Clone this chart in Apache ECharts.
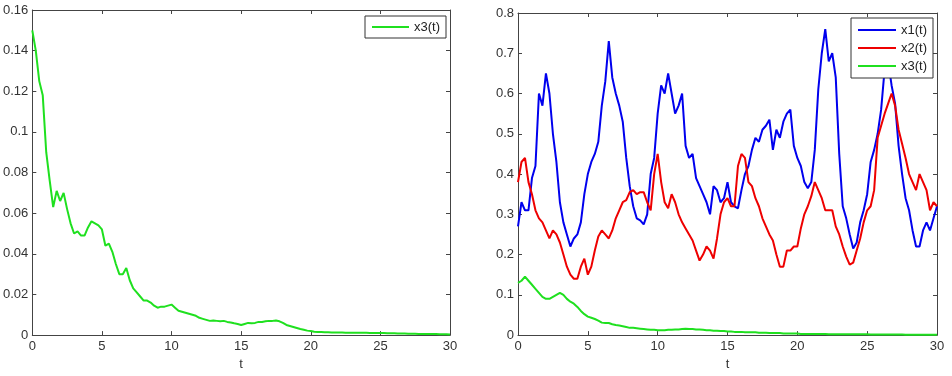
<!DOCTYPE html>
<html>
<head>
<meta charset="utf-8">
<title>x1 x2 x3</title>
<script src="https://cdn.jsdelivr.net/npm/echarts@6/dist/echarts.min.js"></script>
<style>
  html, body { margin: 0; padding: 0; background: #fff; }
  #main { width: 952px; height: 376px; }
</style>
</head>
<body>
<div id="main"></div>
<script type="text/javascript">
// sample times 0..30, step 0.25
var step = 0.25;
var tList = [];
for (var i = 0; i <= 120; i++) tList.push(i * step);

// left panel: x3(t)
var x3Left = [
  0.15, 0.14, 0.125, 0.118,
  0.09, 0.076, 0.063, 0.071,
  0.066, 0.070, 0.062, 0.055,
  0.050, 0.051, 0.049, 0.049,
  0.053, 0.056, 0.055, 0.054,
  0.052, 0.044, 0.045, 0.041,
  0.035, 0.030, 0.030, 0.033,
  0.027, 0.023, 0.021, 0.019,
  0.017, 0.017, 0.016, 0.0145,
  0.0135, 0.014, 0.014, 0.0145,
  0.015, 0.0135, 0.012, 0.0115,
  0.011, 0.0105, 0.010, 0.0095,
  0.0085, 0.008, 0.0075, 0.007,
  0.0072, 0.007, 0.0068, 0.007,
  0.0065, 0.0062, 0.0058, 0.0055,
  0.005, 0.0055, 0.006, 0.0058,
  0.006, 0.0065, 0.0065, 0.0068,
  0.007, 0.007, 0.0072, 0.0068,
  0.006, 0.005, 0.0045, 0.004,
  0.0035, 0.003, 0.0026, 0.0022,
  0.002, 0.0017, 0.0015, 0.0015,
  0.0014, 0.0014, 0.0013, 0.0013,
  0.0013, 0.0013, 0.0012, 0.0012,
  0.0012, 0.0012, 0.0011, 0.0011,
  0.0011, 0.001, 0.001, 0.001,
  0.001, 0.001, 0.0009, 0.0009,
  0.0009, 0.0008, 0.0008, 0.0008,
  0.0007, 0.0007, 0.0007, 0.0006,
  0.0006, 0.0006, 0.0005, 0.0005,
  0.0005, 0.0004, 0.0004, 0.0004,
  0.0003
];

// right panel
var x1 = [
  0.27, 0.33, 0.31, 0.31,
  0.39, 0.42, 0.60, 0.57,
  0.65, 0.60, 0.50, 0.43,
  0.33, 0.28, 0.25, 0.22,
  0.24, 0.25, 0.28, 0.35,
  0.40, 0.43, 0.45, 0.48,
  0.57, 0.63, 0.73, 0.64,
  0.60, 0.57, 0.53, 0.44,
  0.37, 0.32, 0.29, 0.285,
  0.275, 0.30, 0.40, 0.44,
  0.55, 0.62, 0.60, 0.65,
  0.60, 0.55, 0.57, 0.60,
  0.47, 0.44, 0.45, 0.39,
  0.37, 0.35, 0.33, 0.30,
  0.37, 0.36, 0.33, 0.34,
  0.38, 0.33, 0.32, 0.315,
  0.36, 0.40, 0.42, 0.46,
  0.49, 0.48, 0.51, 0.52,
  0.535, 0.46, 0.51, 0.49,
  0.53, 0.55, 0.56, 0.47,
  0.44, 0.42, 0.38, 0.365,
  0.38, 0.46, 0.61, 0.70,
  0.76, 0.68, 0.70, 0.64,
  0.45, 0.32, 0.29, 0.25,
  0.215, 0.23, 0.28, 0.31,
  0.35, 0.43, 0.46, 0.50,
  0.56, 0.66, 0.68, 0.62,
  0.575, 0.47, 0.40, 0.34,
  0.31, 0.26, 0.22, 0.22,
  0.26, 0.28, 0.26, 0.29,
  0.32
];

var x2 = [
  0.38, 0.43, 0.44, 0.38,
  0.35, 0.31, 0.29, 0.28,
  0.26, 0.24, 0.26, 0.25,
  0.23, 0.20, 0.17, 0.15,
  0.14, 0.14, 0.17, 0.19,
  0.15, 0.17, 0.21, 0.245,
  0.26, 0.25, 0.24, 0.26,
  0.29, 0.31, 0.33, 0.335,
  0.355, 0.36, 0.35, 0.355,
  0.355, 0.33, 0.31, 0.40,
  0.45, 0.38, 0.33, 0.315,
  0.35, 0.33, 0.30, 0.28,
  0.265, 0.25, 0.235, 0.21,
  0.185, 0.20, 0.22, 0.21,
  0.19, 0.24, 0.30, 0.33,
  0.34, 0.32, 0.32, 0.42,
  0.45, 0.44, 0.38, 0.37,
  0.34, 0.32, 0.29, 0.27,
  0.25, 0.235, 0.20, 0.17,
  0.17, 0.21, 0.21, 0.22,
  0.22, 0.265, 0.30, 0.32,
  0.345, 0.38, 0.36, 0.34,
  0.31, 0.31, 0.31, 0.27,
  0.25, 0.22, 0.195, 0.175,
  0.18, 0.21, 0.24, 0.28,
  0.31, 0.32, 0.36, 0.49,
  0.52, 0.55, 0.575, 0.60,
  0.57, 0.51, 0.475, 0.44,
  0.40, 0.38, 0.36, 0.40,
  0.38, 0.36, 0.31, 0.33,
  0.32
];

var x3Right = [
  0.13, 0.135, 0.145, 0.135,
  0.125, 0.115, 0.105, 0.095,
  0.09, 0.09, 0.095, 0.10,
  0.105, 0.10, 0.09, 0.083,
  0.078, 0.07, 0.06, 0.052,
  0.046, 0.043, 0.04, 0.036,
  0.031, 0.03, 0.03, 0.027,
  0.025, 0.024, 0.022, 0.02,
  0.018, 0.018, 0.017, 0.016,
  0.015, 0.014, 0.013, 0.013,
  0.012, 0.012, 0.012, 0.013,
  0.013, 0.014, 0.014, 0.015,
  0.016, 0.015, 0.015, 0.014,
  0.014, 0.013, 0.012, 0.012,
  0.011, 0.011, 0.010, 0.010,
  0.009, 0.009, 0.008, 0.008,
  0.008, 0.007, 0.007, 0.007,
  0.007, 0.006, 0.006, 0.006,
  0.005, 0.005, 0.005, 0.005,
  0.004, 0.004, 0.004, 0.004,
  0.004, 0.003, 0.003, 0.003,
  0.003, 0.003, 0.003, 0.003,
  0.003, 0.002, 0.002, 0.002,
  0.002, 0.002, 0.002, 0.002,
  0.002, 0.002, 0.002, 0.002,
  0.002, 0.0015, 0.0015, 0.0015,
  0.0015, 0.0015, 0.0015, 0.0012,
  0.0012, 0.0012, 0.0012, 0.001,
  0.001, 0.001, 0.001, 0.001,
  0.001, 0.001, 0.001, 0.001,
  0.001
];

var xTicks = [0, 5, 10, 15, 20, 25, 30];

function pairs(vals) {
  var out = [];
  for (var i = 0; i < vals.length; i++) out.push([tList[i], vals[i]]);
  return out;
}

var axisColor = '#444';
var labelFont = { color: '#333', fontSize: 13, fontFamily: 'Liberation Sans, Arial, sans-serif' };

function xAx(grid, pos, labels) {
  return {
    type: 'value', gridIndex: grid, position: pos,
    min: xTicks[0], max: xTicks[xTicks.length - 1], interval: 5,
    name: labels ? 't' : '', nameLocation: 'middle', nameGap: 18,
    nameTextStyle: labelFont,
    axisLine: { show: true, onZero: false, lineStyle: { color: axisColor, width: 1 } },
    axisTick: { show: true, inside: true, length: 4, lineStyle: { color: axisColor } },
    axisLabel: Object.assign({ show: labels, margin: 5 }, labelFont),
    splitLine: { show: false }
  };
}

function yAx(grid, pos, max, interval, labels) {
  return {
    type: 'value', gridIndex: grid, position: pos,
    min: 0, max: max, interval: interval,
    axisLine: { show: true, onZero: false, lineStyle: { color: axisColor, width: 1 } },
    axisTick: { show: true, inside: true, length: 4, lineStyle: { color: axisColor } },
    axisLabel: Object.assign({ show: labels, margin: 4 }, labelFont),
    splitLine: { show: false }
  };
}

var legendText = { color: '#222', fontSize: 13, fontFamily: 'Liberation Sans, Arial, sans-serif', lineHeight: 14 };

var myChart = echarts.init(document.getElementById('main'));
myChart.setOption({
  backgroundColor: '#fff',
  animation: false,
  grid: [
    { left: 32, top: 10, width: 418, height: 330 },
    { left: 518, top: 13, width: 419, height: 328 }
  ],
  xAxis: [
    xAx(0, 'bottom', true), xAx(0, 'top', false),
    xAx(1, 'bottom', true), xAx(1, 'top', false)
  ],
  yAxis: [
    yAx(0, 'left', 0.16, 0.02, true), yAx(0, 'right', 0.16, 0.02, false),
    yAx(1, 'left', 0.8, 0.1, true), yAx(1, 'right', 0.8, 0.1, false)
  ],
  legend: [
    {
      data: ['x3(t)'], left: 365, top: 16, orient: 'vertical',
      icon: 'rect', itemWidth: 37, itemHeight: 2, itemGap: 4,
      padding: [4, 6, 4, 7],
      backgroundColor: '#fff', borderColor: '#333', borderWidth: 1,
      textStyle: legendText, selectedMode: false
    },
    {
      data: ['x1(t)', 'x2(t)', 'x3(t)'], left: 851, top: 18, orient: 'vertical',
      icon: 'rect', itemWidth: 38, itemHeight: 2, itemGap: 4,
      padding: [5, 6, 5, 7],
      backgroundColor: '#fff', borderColor: '#333', borderWidth: 1,
      textStyle: legendText, selectedMode: false
    }
  ],
  series: [
    {
      name: 'x3(t)', type: 'line', xAxisIndex: 0, yAxisIndex: 0,
      data: pairs(x3Left), symbol: 'none',
      lineStyle: { color: '#1fe01f', width: 2 }, itemStyle: { color: '#1fe01f' }
    },
    {
      name: 'x1(t)', type: 'line', xAxisIndex: 2, yAxisIndex: 2,
      data: pairs(x1), symbol: 'none',
      lineStyle: { color: '#0000ee', width: 2 }, itemStyle: { color: '#0000ee' }
    },
    {
      name: 'x2(t)', type: 'line', xAxisIndex: 2, yAxisIndex: 2,
      data: pairs(x2), symbol: 'none',
      lineStyle: { color: '#ee0000', width: 2 }, itemStyle: { color: '#ee0000' }
    },
    {
      name: 'x3(t)', type: 'line', xAxisIndex: 2, yAxisIndex: 2,
      data: pairs(x3Right), symbol: 'none',
      lineStyle: { color: '#1fe01f', width: 2 }, itemStyle: { color: '#1fe01f' }
    }
  ]
});
</script>
</body>
</html>
